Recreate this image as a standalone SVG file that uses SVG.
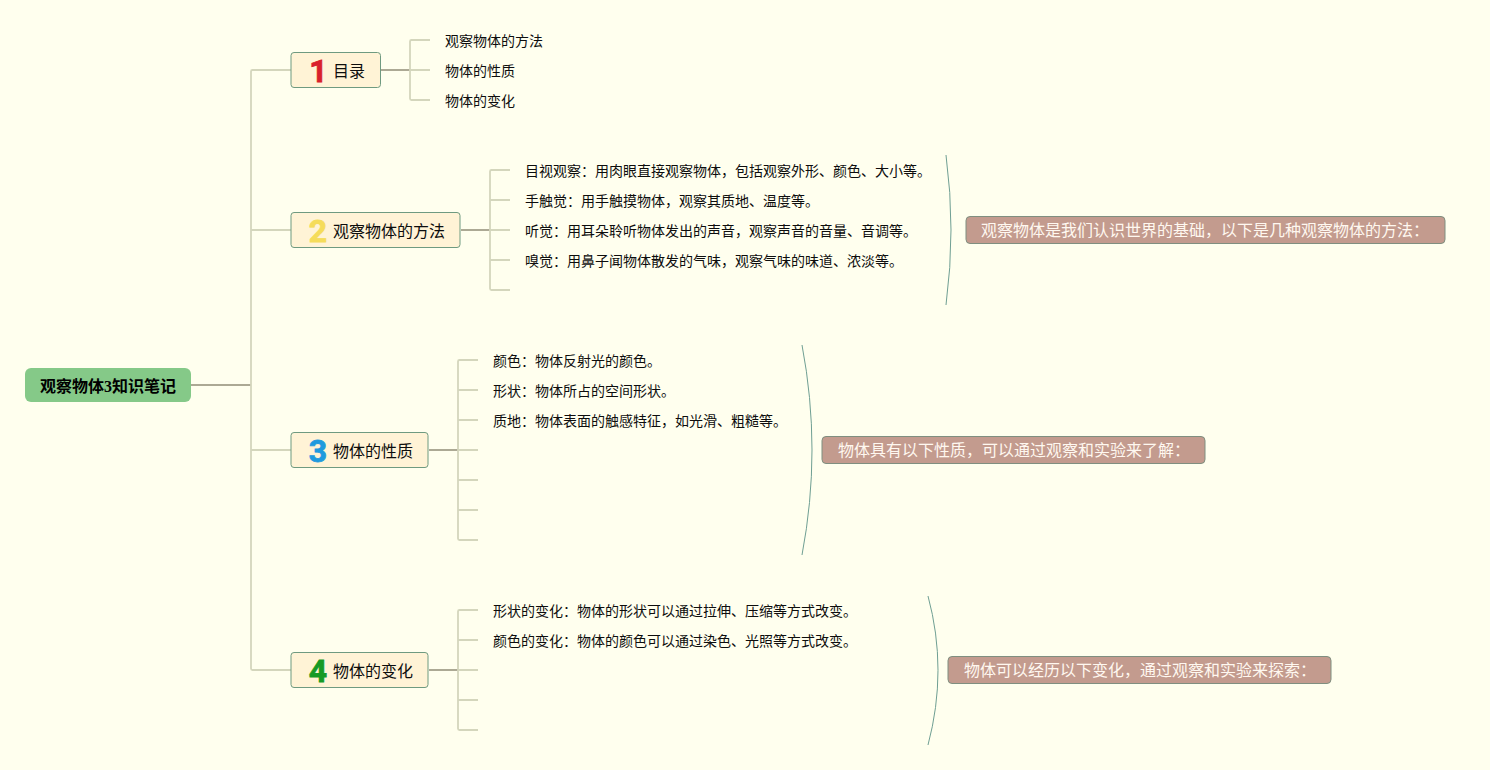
<svg xmlns="http://www.w3.org/2000/svg" width="1490" height="770" viewBox="0 0 1490 770">
<style>
text{font-family:"Noto Sans CJK SC","Liberation Sans",sans-serif;fill:#0d0d0d}
.leaf{font-size:14px}
.topic{font-size:16px}
.box{fill:#fff3d6;stroke:#6f9a80;stroke-width:1}
.note{fill:#c39b8e;stroke:#7f8f80;stroke-width:1}
.nt{font-size:16px;fill:#fff8f0}
.num{font-family:Roboto,"Open Sans",sans-serif;font-size:32px;font-weight:700;text-anchor:middle;stroke-width:.8px}
.l1{fill:none;stroke:#d4d6bc;stroke-width:1.8}
.l0{fill:none;stroke:#aca994;stroke-width:1.8}
.arc{fill:none;stroke:#6f9f93;stroke-width:1}
</style>
<rect width="1490" height="770" fill="#ffffee"/>
<g id="connectors">
<path class="l0" d="M191 385H251"/>
<path class="l1" d="M291 70H252.500Q251 70 251 71.500V668.500Q251 670 252.500 670H291M251 230H291M251 450H291"/>
<path class="l0" d="M381 70H410M461 230H490M429 450H458M429 670H458"/>
<path class="l1" d="M430 40H411.500Q410 40 410 41.500V98.500Q410 100 411.500 100H430M410 70H430"/>
<path class="l1" d="M510 170H491.500Q490 170 490 171.500V288.500Q490 290 491.500 290H510M490 200H510M490 230H510M490 260H510"/>
<path class="l1" d="M478 360H459.500Q458 360 458 361.500V538.500Q458 540 459.500 540H478M458 390H478M458 420H478M458 450H478M458 480H478M458 510H478"/>
<path class="l1" d="M478 610H459.500Q458 610 458 611.500V728.500Q458 730 459.500 730H478M458 640H478M458 670H478M458 700H478"/>
<path class="arc" d="M946 155Q956 230 946 305"/>
<path class="arc" d="M802 345Q822 450 802 555"/>
<path class="arc" d="M928 596Q948 670 928 745"/>
</g>
<g id="root"><rect x="25" y="368" width="166" height="34" rx="6" fill="#85c988"/><text x="108" y="392" font-size="16" font-weight="700" text-anchor="middle" style="fill:#000">观察物体<tspan style="font-family:'Liberation Serif',serif">3</tspan>知识笔记</text></g>
<g id="topic1"><rect class="box" x="291" y="52.500" width="89.500" height="35" rx="3"/><text class="num" x="318.500" y="81.500" style="fill:#d9202c;stroke:#d9202c">1</text><text class="topic" x="333" y="77">目录</text></g>
<g id="topic2"><rect class="box" x="291" y="212.500" width="169" height="35" rx="3"/><text class="num" x="318" y="242" style="fill:#f5dc5a;stroke:#f5dc5a">2</text><text class="topic" x="333" y="237">观察物体的方法</text></g>
<g id="topic3"><rect class="box" x="291" y="432.500" width="137" height="35" rx="3"/><text class="num" x="318" y="462" style="fill:#1f9ade;stroke:#1f9ade">3</text><text class="topic" x="333" y="457">物体的性质</text></g>
<g id="topic4"><rect class="box" x="291" y="652.500" width="137" height="35" rx="3"/><text class="num" x="318" y="682" style="fill:#169a26;stroke:#169a26">4</text><text class="topic" x="333" y="677">物体的变化</text></g>
<g id="t1-leaves"><text class="leaf" x="445" y="46">观察物体的方法</text><text class="leaf" x="445" y="76">物体的性质</text><text class="leaf" x="445" y="106">物体的变化</text></g>
<g id="t2-leaves"><text class="leaf" x="525" y="176">目视观察：用肉眼直接观察物体，包括观察外形、颜色、大小等。</text><text class="leaf" x="525" y="206">手触觉：用手触摸物体，观察其质地、温度等。</text><text class="leaf" x="525" y="236">听觉：用耳朵聆听物体发出的声音，观察声音的音量、音调等。</text><text class="leaf" x="525" y="266">嗅觉：用鼻子闻物体散发的气味，观察气味的味道、浓淡等。</text></g>
<g id="t3-leaves"><text class="leaf" x="493" y="366">颜色：物体反射光的颜色。</text><text class="leaf" x="493" y="396">形状：物体所占的空间形状。</text><text class="leaf" x="493" y="426">质地：物体表面的触感特征，如光滑、粗糙等。</text></g>
<g id="t4-leaves"><text class="leaf" x="493" y="616">形状的变化：物体的形状可以通过拉伸、压缩等方式改变。</text><text class="leaf" x="493" y="646">颜色的变化：物体的颜色可以通过染色、光照等方式改变。</text></g>
<g id="note2"><rect class="note" x="966" y="216.500" width="479" height="27" rx="4"/><text class="nt" x="981" y="236">观察物体是我们认识世界的基础，以下是几种观察物体的方法：</text></g>
<g id="note3"><rect class="note" x="822" y="436.500" width="383" height="27" rx="4"/><text class="nt" x="838" y="456">物体具有以下性质，可以通过观察和实验来了解：</text></g>
<g id="note4"><rect class="note" x="948" y="656.500" width="383" height="27" rx="4"/><text class="nt" x="964" y="676">物体可以经历以下变化，通过观察和实验来探索：</text></g>
</svg>
